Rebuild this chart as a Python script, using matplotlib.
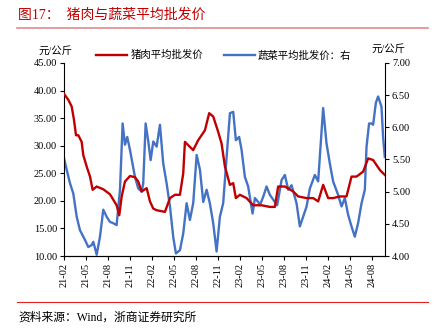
import numpy as np
import matplotlib
matplotlib.use('Agg')
import matplotlib.pyplot as plt
from matplotlib.lines import Line2D

# Style
RED = '#C00000'
BLUE = '#4472C4'
TITLE_RED = '#C00000'
RULE_PINK = '#E38B8B'
RULE_RED = '#E02020'
CJK = ['Liberation Serif', 'Noto Sans CJK SC']
NUM = 'Liberation Serif'

# Data (months since 2021-02)
tick_labels = ['21-02', '21-05', '21-08', '21-11', '22-02', '22-05', '22-08', '22-11',
               '23-02', '23-05', '23-08', '23-11', '24-02', '24-05', '24-08']

pork_t = [0, 0.6, 1.05, 1.36, 1.64, 1.95, 2.41, 2.63, 3.1, 3.55, 3.91, 4.46, 5.36, 6.27,
          7.18, 7.54, 7.87, 8.32, 9.0, 9.68, 10.13, 10.6, 11.28, 11.73, 12.18, 12.64,
          13.77, 14.46, 15.14, 15.82, 16.27, 16.5, 16.95, 17.63, 18.31, 19.23, 19.81,
          20.36, 21.04, 21.5, 21.96, 22.64, 23.09, 23.45, 24.0, 24.91, 25.81, 26.96,
          28.09, 28.77, 29.22, 30.14, 31.27, 31.95, 33.1, 34.0, 34.68, 35.36, 36.04,
          36.72, 37.64, 38.55, 39.23, 39.91, 40.82, 41.5, 42.18, 43.1, 43.77]
pork = [39.4, 38.3, 37.1, 34.7, 31.9, 31.9, 30.7, 28.3, 26.2, 24.4, 22.0, 22.6, 22.1, 21.2,
        19.2, 17.4, 20.8, 23.5, 24.5, 24.3, 23.5, 21.7, 22.3, 19.9, 18.6, 18.3,
        18.0, 20.5, 21.1, 21.1, 25.0, 30.7, 30.1, 29.2, 31.0, 32.8, 35.9,
        35.3, 32.5, 30.4, 26.2, 22.9, 23.2, 20.5, 21.1, 20.5, 19.2, 19.2,
        18.9, 18.9, 22.6, 22.6, 21.7, 20.8, 20.5, 20.5, 19.9, 22.9, 20.5,
        20.5, 20.8, 20.8, 24.4, 24.4, 25.3, 27.7, 27.4, 25.6, 24.7]

veg_t = [0, 0.37, 0.82, 1.27, 1.73, 2.18, 2.41, 2.86, 3.31, 3.78, 4.0, 4.46, 4.91, 5.36,
         5.82, 6.27, 6.72, 7.18, 7.64, 8.0, 8.32, 8.63, 9.0, 9.68, 10.13, 10.6, 10.81,
         11.14, 11.5, 11.82, 12.18, 12.64, 13.09, 13.54, 14.0, 14.46, 14.9, 15.27, 15.82,
         16.27, 16.73, 17.18, 17.63, 18.1, 18.55, 19.0, 19.46, 19.9, 20.36, 20.82, 21.27,
         21.72, 22.19, 22.64, 23.09, 23.45, 23.9, 24.23, 24.68, 25.13, 25.73, 26.05,
         26.5, 26.73, 27.18, 27.64, 28.09, 28.77, 29.09, 29.69, 30.14, 30.59, 31.05,
         31.73, 32.18, 32.63, 33.1, 33.55, 34.23, 34.68, 35.36, 35.82, 36.27, 36.72,
         37.4, 37.87, 38.32, 38.77, 39.23, 39.68, 40.13, 40.6, 41.05, 41.28, 41.63,
         41.96, 42.18, 42.55, 42.86, 43.32, 43.54, 43.77]
veg = [5.52, 5.34, 5.13, 4.97, 4.61, 4.40, 4.35, 4.25, 4.14, 4.17, 4.22, 4.02, 4.30, 4.72,
       4.61, 4.53, 4.51, 4.48, 5.03, 6.06, 5.73, 5.85, 5.65, 5.23, 5.05, 5.0, 5.13,
       6.06, 5.78, 5.49, 5.78, 5.70, 6.04, 5.44, 5.13, 4.77, 4.30, 4.04, 4.09,
       4.35, 4.82, 4.56, 4.82, 5.57, 5.34, 4.84, 5.03, 4.82, 4.51, 4.07, 4.61,
       4.82, 5.54, 6.22, 6.24, 5.80, 5.85, 5.65, 5.23, 5.08, 4.66, 4.90,
       4.84, 4.79, 4.92, 5.08, 4.95, 4.84, 4.79, 5.18, 5.26, 5.03, 5.10,
       4.82, 4.46, 4.61, 4.77, 5.05, 5.26, 5.16, 6.30, 5.75, 5.44, 5.16,
       4.95, 4.77, 4.90, 4.64, 4.46, 4.30, 4.51, 4.82, 5.03, 5.70, 6.06,
       6.06, 6.04, 6.38, 6.48, 6.32, 5.85, 5.54]

left_ticks = [10, 15, 20, 25, 30, 35, 40, 45]
right_ticks = [4.0, 4.5, 5.0, 5.5, 6.0, 6.5, 7.0]

fig = plt.figure(figsize=(4.35, 3.32), dpi=100)
fig.patch.set_facecolor('white')
ax = fig.add_axes([64 / 435, 1 - 256 / 332, 321 / 435, 193 / 332])
ax2 = ax.twinx()

ax.plot(pork_t, pork, color=RED, lw=1.7, zorder=3)
ax2.plot(veg_t, veg, color=BLUE, lw=1.7)
ax.set_zorder(ax2.get_zorder() + 1)
ax.patch.set_visible(False)

ax.set_xlim(0, 43.8)
ax.set_ylim(10, 45)
ax2.set_ylim(4, 7)
ax.set_xticks(np.arange(0, 45, 3))
ax.set_xticklabels(tick_labels, rotation=90, fontsize=7.5, family=NUM)
ax.set_yticks(left_ticks)
ax.set_yticklabels([f'{v:.2f}' for v in left_ticks], fontsize=7.5, family=NUM)
ax2.set_yticks(right_ticks)
ax2.set_yticklabels([f'{v:.2f}' for v in right_ticks], fontsize=7.5, family=NUM)

for a in (ax, ax2):
    a.spines['top'].set_visible(False)
    for s in a.spines.values():
        s.set_linewidth(0.8)
    a.tick_params(direction='out', length=3, width=0.8, pad=2)
ax.spines['right'].set_visible(False)
ax2.spines['left'].set_visible(False)

# Units
fig.text(55 / 435, 1 - 51 / 332, '元/公斤', fontsize=7.5, family=CJK, ha='center', va='center')
fig.text(388 / 435, 1 - 49 / 332, '元/公斤', fontsize=7.5, family=CJK, ha='center', va='center')

# Legend
handles = [Line2D([], [], color=RED, lw=1.7), Line2D([], [], color=BLUE, lw=1.7)]
ax.legend(handles, ['猪肉平均批发价', '蔬菜平均批发价：右'], ncol=2, frameon=False,
          loc='center left', bbox_to_anchor=(0.07, 1.04), handlelength=3.0,
          handletextpad=0.3, columnspacing=2.0, prop={'family': CJK, 'size': 7.5})

# Title and rules
fig.text(18 / 435, 1 - 15 / 332, '图17：  猪肉与蔬菜平均批发价', fontsize=10, family=CJK,
         color=TITLE_RED, ha='left', va='center')
fig.add_artist(Line2D([17 / 435, 428 / 435], [1 - 28 / 332, 1 - 28 / 332], color=RULE_PINK, lw=1.2))
fig.add_artist(Line2D([17 / 435, 428 / 435], [1 - 302 / 332, 1 - 302 / 332], color=RULE_RED, lw=0.8))
fig.text(18 / 435, 1 - 318 / 332, '资料来源：Wind，浙商证券研究所', fontsize=8.5, family=CJK,
         ha='left', va='center')

plt.savefig('out.png', dpi=100, facecolor='white')
plt.close()
